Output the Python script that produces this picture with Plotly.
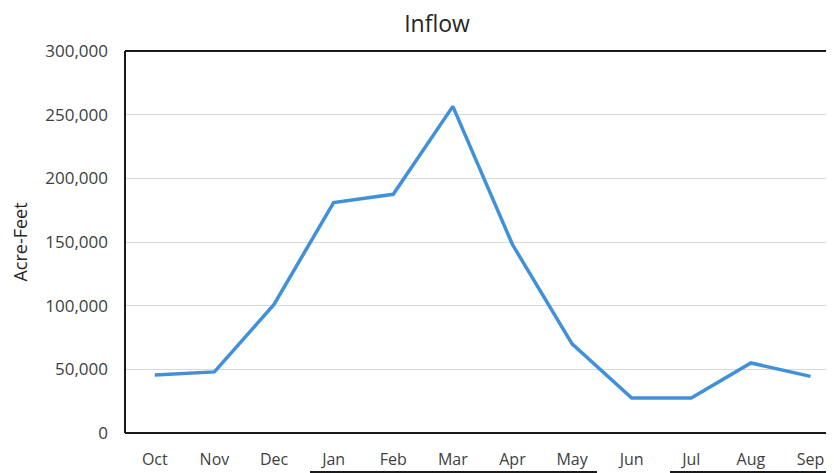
import plotly.graph_objects as go

months = ["Oct", "Nov", "Dec", "Jan", "Feb", "Mar", "Apr", "May", "Jun", "Jul", "Aug", "Sep"]
inflow = [45500, 48000, 101000, 181000, 187500, 256500, 148000, 70000, 27500, 27500, 55000, 44500]
y_ticks = [0, 50000, 100000, 150000, 200000, 250000, 300000]
y_tick_labels = ["0", "50,000", "100,000", "150,000", "200,000", "250,000", "300,000"]

FONT = "Open Sans, Lato, sans-serif"
PW = 701  # plot width in px

fig = go.Figure()
fig.add_trace(go.Scatter(
    x=list(range(len(months))), y=inflow, mode="lines",
    line=dict(color="#4190DA", width=3.5),
    hoverinfo="skip", showlegend=False,
))

# page is offset by the 8px body margin; figure coords = window coords - 8
fig.update_layout(
    width=834, height=473,
    margin=dict(l=117, r=16, t=43, b=48, autoexpand=False),
    paper_bgcolor="white", plot_bgcolor="white",
    font=dict(family=FONT, color="#404040", size=17),
    title=dict(text="Inflow", x=429/834, xanchor="center", y=1, yanchor="top",
               pad=dict(t=8, b=0),
               font=dict(size=23, color="#262626", family=FONT)),
    xaxis=dict(
        tickmode="array", tickvals=list(range(len(months))), ticktext=months,
        range=[-0.5, 11.26], showgrid=False, zeroline=False, automargin=False,
        showline=False, ticks="", ticklabelstandoff=15,
        tickfont=dict(size=16, color="#404040"),
    ),
    yaxis=dict(
        title=dict(text="Acre-Feet", font=dict(size=18, color="#262626"), standoff=15),
        tickmode="array", tickvals=y_ticks, ticktext=y_tick_labels,
        range=[0, 300000], showgrid=True, gridcolor="#D9D9D9", gridwidth=1,
        zeroline=False, showline=False, ticks="", ticklabelstandoff=16, automargin=False,
        tickfont=dict(size=17, color="#404040"),
    ),
    shapes=[
        dict(type="line", xref="paper", yref="paper", x0=0, x1=0, y0=0, y1=1,
             line=dict(color="#1a1a1a", width=2)),
        dict(type="line", xref="paper", yref="paper", x0=0, x1=1, y0=1, y1=1,
             line=dict(color="#1a1a1a", width=2)),
        dict(type="line", xref="paper", yref="paper", x0=0, x1=1, y0=0, y1=0,
             line=dict(color="#1a1a1a", width=2)),
        dict(type="line", xref="paper", yref="paper", x0=(310-125)/PW, x1=(597-125)/PW,
             y0=-(472-433)/382, y1=-(472-433)/382, line=dict(color="#1a1a1a", width=2)),
        dict(type="line", xref="paper", yref="paper", x0=(670-125)/PW, x1=1,
             y0=-(472-433)/382, y1=-(472-433)/382, line=dict(color="#1a1a1a", width=2)),
    ],
)

fig.write_html("out.html")
